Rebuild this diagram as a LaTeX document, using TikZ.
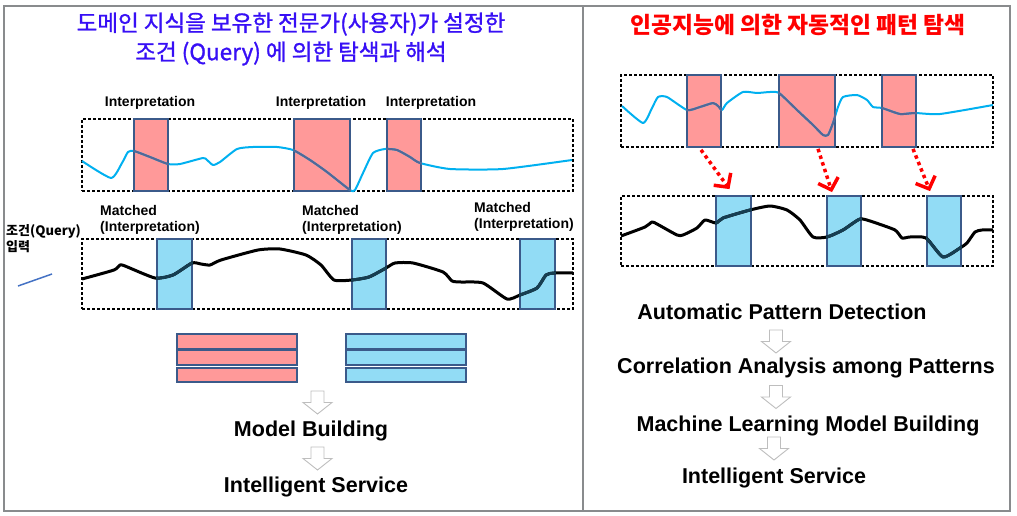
\documentclass[tikz,border=0pt]{standalone}
\usepackage{fontspec}
\setmainfont{Liberation Sans}
\newfontfamily\kr{Noto Sans CJK KR}
\newfontfamily\krmed[FakeBold=1.2]{Noto Sans CJK KR}
\usetikzlibrary{arrows.meta}
\definecolor{frameg}{RGB}{137,139,141}
\definecolor{salmon}{RGB}{255,153,153}
\definecolor{skyb}{RGB}{146,220,245}
\definecolor{rectb}{RGB}{59,90,138}
\definecolor{cyanl}{RGB}{0,176,240}
\definecolor{cyandark}{RGB}{84,103,150}
\definecolor{blackdark}{RGB}{22,62,82}
\definecolor{titleblue}{RGB}{55,15,245}
\definecolor{qline}{RGB}{68,114,196}
\definecolor{hollowg}{RGB}{190,190,190}
\tikzset{
  frame/.style={draw=frameg, line width=2.5pt},
  dashbox/.style={draw=black, line width=1.4pt, dash pattern=on 3pt off 2pt, inner sep=0pt},
  redbox/.style={draw=rectb, fill=salmon, line width=1.8pt, inner sep=0pt},
  bluebox/.style={draw=rectb, fill=skyb, line width=1.8pt, inner sep=0pt},
  smalllab/.style={font=\bfseries\fontsize{14}{16}\selectfont, inner sep=0pt},
  biglab/.style={font=\bfseries\fontsize{21.5}{24}\selectfont, inner sep=0pt},
  cyancurve/.style={draw=cyanl, line width=2pt, line join=round},
  blackcurve/.style={draw=black, line width=3pt, line join=round},
  redarrow/.style={draw=red, line width=3.5pt, dash pattern=on 3.5pt off 3.5pt, -{Straight Barb[length=10pt,width=21pt]}},
  hollow/.pic={\draw[draw=hollowg, fill=white, line width=0.9pt, line join=miter]
     (-6.5,-11.5) -- (6.5,-11.5) -- (6.5,0) -- (14.5,0) -- (0,11.5) -- (-14.5,0) -- (-6.5,0) -- cycle;}
}
\begin{document}
\begin{tikzpicture}[x=1pt,y=-1pt]
\useasboundingbox (0,0) rectangle (1017,516);
% frame
\draw[frame] (4,6) rectangle (1010,511);
\draw[frame] (583,6) -- (583,511);

% titles
\node[font=\krmed\fontsize{22.5}{29}\selectfont, text=titleblue, align=center, inner sep=0pt] (tl) at (291,39)
  {도메인 지식을 보유한 전문가(사용자)가 설정한\\조건 (Query) 에 의한 탐색과 해석};
\node[font=\kr\bfseries\fontsize{22.8}{26}\selectfont, text=red, inner sep=0pt] (tr) at (798,25)
  {인공지능에 의한 자동적인 패턴 탐색};

% ---------- left panel ----------
\node[dashbox, minimum width=491pt, minimum height=72pt] (ltop) at (327.5,155) {};
\node[dashbox, minimum width=491pt, minimum height=70pt] (lbot) at (327.5,274) {};

\node[redbox, minimum width=34pt, minimum height=72pt] (l1) at (151,155) {};
\node[redbox, minimum width=56pt, minimum height=72pt] (l2) at (322,155) {};
\node[redbox, minimum width=34pt, minimum height=72pt] (l3) at (404,155) {};

\node[bluebox, minimum width=35pt, minimum height=70pt] (m1) at (174.5,274) {};
\node[bluebox, minimum width=34pt, minimum height=70pt] (m2) at (369,274) {};
\node[bluebox, minimum width=35pt, minimum height=70pt] (m3) at (537.5,274) {};

\draw[cyancurve] plot[smooth, tension=0.35] coordinates {(82,161) (111,178) (122,163) (128,152) (134,151) (150,157) (168,164) (180,164) (203,158) (207,160) (213,165) (220,162) (237,149) (253,147) (277,147) (293,150) (310,160) (327,172) (350,190) (355,190) (363,173) (373,153) (385,149) (397,150) (410,157) (420,163) (450,169) (503,169) (572,160)};
\begin{scope}
\clip (l1.south west) rectangle (l1.north east) (l2.south west) rectangle (l2.north east) (l3.south west) rectangle (l3.north east);
\draw[cyancurve, draw=cyandark] plot[smooth, tension=0.35] coordinates {(82,161) (111,178) (122,163) (128,152) (134,151) (150,157) (168,164) (180,164) (203,158) (207,160) (213,165) (220,162) (237,149) (253,147) (277,147) (293,150) (310,160) (327,172) (350,190) (355,190) (363,173) (373,153) (385,149) (397,150) (410,157) (420,163) (450,169) (503,169) (572,160)};
\end{scope}

\draw[blackcurve] plot[smooth, tension=0.35] coordinates {(82,279) (114,270) (120,265) (125,266) (155,278) (173,275) (192,263) (201,264) (210,265) (221,260) (258,250) (280,249) (306,255) (321,265) (334,280) (352,280) (369,277) (386,268) (395,263) (413,263) (443,272) (452,281) (461,282) (483,283) (507,299) (520,295) (537,288) (546,275) (554,273) (573,273)};
\begin{scope}
\clip (m1.south west) rectangle (m1.north east) (m2.south west) rectangle (m2.north east) (m3.south west) rectangle (m3.north east);
\draw[blackcurve, draw=blackdark] plot[smooth, tension=0.35] coordinates {(82,279) (114,270) (120,265) (125,266) (155,278) (173,275) (192,263) (201,264) (210,265) (221,260) (258,250) (280,249) (306,255) (321,265) (334,280) (352,280) (369,277) (386,268) (395,263) (413,263) (443,272) (452,281) (461,282) (483,283) (507,299) (520,295) (537,288) (546,275) (554,273) (573,273)};
\end{scope}

\node[smalllab] (i1) at (150,103) {Interpretation};
\node[smalllab] (i2) at (321,103) {Interpretation};
\node[smalllab] (i3) at (431,103) {Interpretation};

\node[smalllab, align=left, anchor=west] (mt1) at (100,220) {Matched\\(Interpretation)};
\node[smalllab, align=left, anchor=west] (mt2) at (302,220) {Matched\\(Interpretation)};
\node[smalllab, align=left, anchor=west] (mt3) at (474,217) {Matched\\(Interpretation)};

\node[font=\kr\bfseries\fontsize{13}{16}\selectfont, align=left, anchor=west, inner sep=0pt] (q) at (6,239) {조건(Query)\\입력};
\coordinate (qa) at (18,286);
\coordinate (qb) at (52,274);
\draw[draw=qline, line width=1.5pt] (qa) -- (qb);

% stacked bars
\node[redbox, minimum width=120pt, minimum height=15pt] (ra) at (237,341.5) {};
\node[redbox, minimum width=120pt, minimum height=15pt] (rb) at (237,357.5) {};
\node[redbox, minimum width=120pt, minimum height=14pt] (rc) at (237,375) {};
\node[bluebox, minimum width=120pt, minimum height=15pt] (ba) at (406,341.5) {};
\node[bluebox, minimum width=120pt, minimum height=15pt] (bb) at (406,357.5) {};
\node[bluebox, minimum width=120pt, minimum height=14pt] (bc) at (406,375) {};

\pic at (317.5,402.5) {hollow};
\node[biglab] (mb) at (311,431) {Model Building};
\pic at (317.5,458.5) {hollow};
\node[biglab] (is) at (316,487) {Intelligent Service};

% ---------- right panel ----------
\node[dashbox, minimum width=372pt, minimum height=72pt] (rtop) at (807,111) {};
\node[dashbox, minimum width=372pt, minimum height=70pt] (rbot) at (807,231) {};

\node[redbox, minimum width=34pt, minimum height=72pt] (r1) at (704,111) {};
\node[redbox, minimum width=56pt, minimum height=72pt] (r2) at (807,111) {};
\node[redbox, minimum width=34pt, minimum height=72pt] (r3) at (899,111) {};

\node[bluebox, minimum width=35pt, minimum height=70pt] (s1) at (733.5,231) {};
\node[bluebox, minimum width=34pt, minimum height=70pt] (s2) at (844,231) {};
\node[bluebox, minimum width=34pt, minimum height=70pt] (s3) at (944,231) {};

\draw[cyancurve] plot[smooth, tension=0.35] coordinates {(622,106) (643,123) (652,108) (658,97) (667,97) (687,110) (700,107) (713,103) (718,106) (722,110) (727,103) (743,92) (757,93) (770,92) (779,93) (797,110) (813,125) (823,135) (828,135) (833,123) (838,107) (843,97) (857,95) (867,100) (873,107) (882,108) (900,114) (915,113) (940,114) (993,105)};
\begin{scope}
\clip (r1.south west) rectangle (r1.north east) (r2.south west) rectangle (r2.north east) (r3.south west) rectangle (r3.north east);
\draw[cyancurve, draw=cyandark] plot[smooth, tension=0.35] coordinates {(622,106) (643,123) (652,108) (658,97) (667,97) (687,110) (700,107) (713,103) (718,106) (722,110) (727,103) (743,92) (757,93) (770,92) (779,93) (797,110) (813,125) (823,135) (828,135) (833,123) (838,107) (843,97) (857,95) (867,100) (873,107) (882,108) (900,114) (915,113) (940,114) (993,105)};
\end{scope}

\draw[blackcurve] plot[smooth, tension=0.35] coordinates {(621,236) (645,227) (652,222) (657,224) (677,235) (683,235) (697,228) (705,220) (716,223) (723,218) (750,210) (770,206) (787,210) (800,220) (813,237) (827,237) (843,230) (860,219) (873,222) (895,230) (902,238) (910,237) (926,238) (943,257) (960,248) (967,243) (975,232) (982,230) (993,230)};
\begin{scope}
\clip (s1.south west) rectangle (s1.north east) (s2.south west) rectangle (s2.north east) (s3.south west) rectangle (s3.north east);
\draw[blackcurve, draw=blackdark] plot[smooth, tension=0.35] coordinates {(621,236) (645,227) (652,222) (657,224) (677,235) (683,235) (697,228) (705,220) (716,223) (723,218) (750,210) (770,206) (787,210) (800,220) (813,237) (827,237) (843,230) (860,219) (873,222) (895,230) (902,238) (910,237) (926,238) (943,257) (960,248) (967,243) (975,232) (982,230) (993,230)};
\end{scope}

\draw[redarrow] ([xshift=-3pt,yshift=-2pt]r1.south) -- ([xshift=-4pt,yshift=6pt]s1.north);
\draw[redarrow] ([xshift=11pt,yshift=-1pt]r2.south) -- ([xshift=-12pt,yshift=3pt]s2.north);
\draw[redarrow] ([xshift=14pt,yshift=-1pt]r3.south) -- ([xshift=-14pt,yshift=4pt]s3.north);

\node[biglab] (apd) at (782,312) {Automatic Pattern Detection};
\pic at (776,341.5) {hollow};
\node[biglab] (caa) at (806,368) {Correlation Analysis among Patterns};
\pic at (776,397) {hollow};
\node[biglab] (mlb) at (808,426) {Machine Learning Model Building};
\pic at (774,448.5) {hollow};
\node[biglab] (is2) at (774,478) {Intelligent Service};
\end{tikzpicture}
\end{document}
